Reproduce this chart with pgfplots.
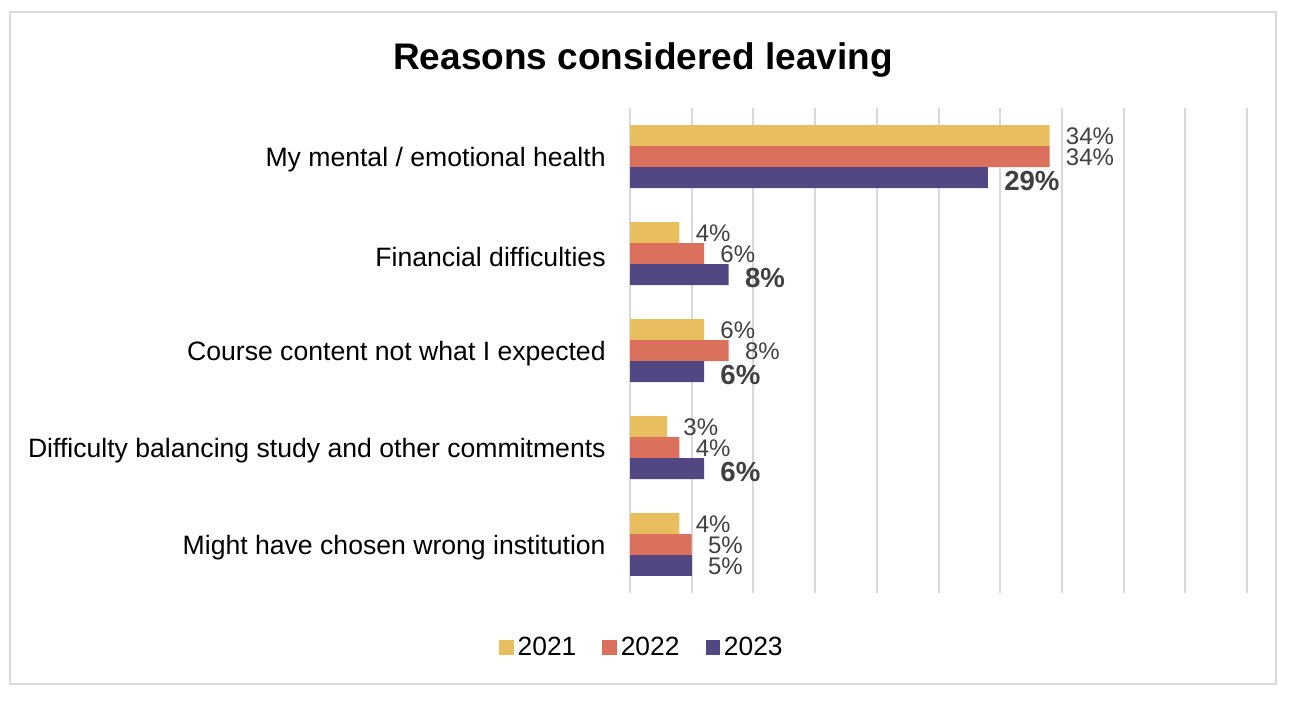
\documentclass[border=0pt]{standalone}
\usepackage{pgfplots}
\pgfplotsset{compat=1.18}
\usepackage{fontspec}
\setmainfont{Liberation Sans}
\definecolor{c21}{RGB}{233,190,95}
\definecolor{c22}{RGB}{219,112,92}
\definecolor{c23}{RGB}{82,71,130}
\definecolor{gridc}{RGB}{217,217,217}
\definecolor{lab}{RGB}{64,64,64}

\begin{document}
\begin{tikzpicture}
% page = 1304x702 px at 0.5pt per px
\path[use as bounding box] (0pt,0pt) rectangle (652pt,351pt);
\draw[gridc, line width=1pt] (5pt,9pt) rectangle (638pt,345pt);
\node[font=\fontsize{18.5}{22}\selectfont\bfseries] at (321.5pt,321pt) {Reasons considered leaving};
\begin{axis}[
    at={(315pt,54.5pt)}, anchor=south west,
    scale only axis,
    width=308.5pt, height=242.5pt,
    xbar, bar width=10.5pt,
    xmin=0, xmax=50,
    ymin=-0.5, ymax=4.5,
    xtick={0,5,...,50}, xticklabels={},
    ytick={0,1,2,3,4},
    yticklabels={Might have chosen wrong institution,
                 Difficulty balancing study and other commitments,
                 Course content not what I expected,
                 Financial difficulties,
                 My mental / emotional health},
    yticklabel style={font=\fontsize{13.3}{15}\selectfont, inner sep=0pt, xshift=-12pt, yshift=-1.5pt},
    axis line style={draw=none},
    major tick length=0pt,
    xmajorgrids,
    major grid style={gridc, line width=1pt},
    /pgf/number format/assume math mode=true,
    nodes near coords={\pgfmathprintnumber[fixed,precision=0]{\pgfplotspointmeta}\%},
    every node near coord/.append style={anchor=west, inner sep=0pt, xshift=8pt, yshift=-0.5pt,
        text=lab, font=\fontsize{12}{14}\selectfont},
    legend columns=3,
    legend style={draw=none, at={(0.021,-0.112)}, anchor=center,
        font=\fontsize{13.2}{15}\selectfont,
        /tikz/every even column/.append style={column sep=11pt}},
    legend image code/.code={\fill[#1] (0pt,-3.6pt) rectangle (7.2pt,3.6pt);},
]
\addplot[fill=c21, draw=none, bar shift=10.5pt] coordinates {
    (34,4) (4,3) (6,2) (3,1) (4,0)
};
\addlegendentry{2021}
\addplot[fill=c22, draw=none, bar shift=0pt] coordinates {
    (34,4) (6,3) (8,2) (4,1) (5,0)
};
\addlegendentry{2022}
\addplot[fill=c23, draw=none, bar shift=-10.5pt,
    every node near coord/.append style={font=\fontsize{13.8}{15}\selectfont\bfseries, yshift=-1pt}] coordinates {
    (29,4) (8,3) (6,2) (6,1)
};
\addlegendentry{2023}
\addplot[fill=c23, draw=none, bar shift=-10.5pt, forget plot] coordinates {
    (5,0)
};
\end{axis}
\end{tikzpicture}
\end{document}
